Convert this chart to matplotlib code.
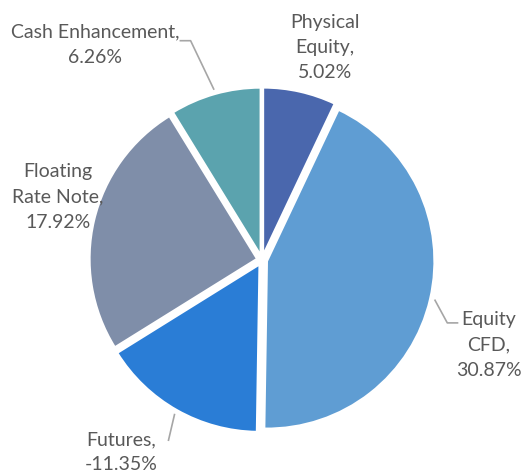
import numpy as np
import matplotlib
matplotlib.use("Agg")
import matplotlib.pyplot as plt

# data
categories = ["Physical Equity", "Equity CFD", "Futures", "Floating Rate Note", "Cash Enhancement"]
label_text = ["Physical\nEquity,\n5.02%", "Equity\nCFD,\n30.87%", "Futures,\n-11.35%",
              "Floating\nRate Note,\n17.92%", "Cash Enhancement,\n6.26%"]
values = [5.02, 30.87, -11.35, 17.92, 6.26]
colors = ["#4A67AD", "#5F9DD3", "#2A7DD6", "#7F8EA9", "#5BA3AE"]

# label layout (text centre, leader elbow, leader end) in pie-radius units
text_pos = [(0.37, 1.25), (1.335, -0.50), (-0.83, -1.13), (-1.20, 0.37), (-0.98, 1.265)]
elbows = [None, (1.09, -0.37), (-0.55, -1.06), None, (-0.42, 1.29)]
ends = [None, (1.15, -0.37), None, None, (-0.48, 1.29)]

plt.rcParams["font.family"] = ["Lato", "DejaVu Sans"]

fig = plt.figure(figsize=(5.23, 4.73), dpi=100)
ax = fig.add_axes([0, 0, 1, 1])

sizes = np.abs(values)
wedges, _ = ax.pie(sizes, colors=colors, startangle=90, counterclock=False,
                   explode=[0.03] * len(sizes), radius=0.985,
                   wedgeprops=dict(edgecolor="white", linewidth=1.5))

for i, w in enumerate(wedges):
    tx, ty = text_pos[i]
    ax.text(tx, ty, label_text[i], ha="center", va="center", fontsize=14,
            color="#595959", linespacing=1.6)
    if elbows[i] is None:
        continue
    ang = np.deg2rad((w.theta1 + w.theta2) / 2)
    r = w.r + 0.03
    ax0 = w.center[0] + r * np.cos(ang)
    ay0 = w.center[1] + r * np.sin(ang)
    xs = [ax0, elbows[i][0]]
    ys = [ay0, elbows[i][1]]
    if ends[i] is not None:
        xs.append(ends[i][0])
        ys.append(ends[i][1])
    ax.plot(xs, ys, color="#A6A6A6", linewidth=1.2)

ax.set_xlim(-262 / 170, 261 / 170)
ax.set_ylim(-213 / 170, 260 / 170)
ax.set_aspect("equal")
ax.axis("off")

fig.savefig("out.png", dpi=100)
